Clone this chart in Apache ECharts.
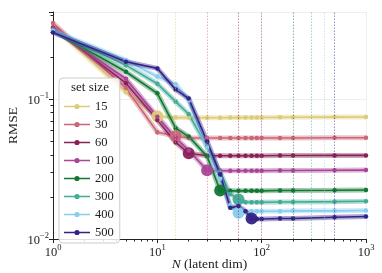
<!DOCTYPE html>
<html><head><meta charset="utf-8">
<script src="https://cdn.jsdelivr.net/npm/echarts@6/dist/echarts.min.js"></script>
<style>html,body{margin:0;padding:0;background:#fff}#c{width:382px;height:273px}</style>
</head><body><div id="c"></div>
<script>
// ---- data ----
const latentDims = [1,5,10,15,20,30,40,50,60,70,80,90,100,150,200,500,1000];
const setSizes = ['15','30','60','100','200','300','400','500'];
const setSizeValues = [15,30,60,100,200,300,400,500];
const colors = ['#DDCC77','#CC6677','#882255','#AA4499','#117733','#44AA99','#88CCEE','#332288'];
const rmse15  = [0.330,0.112,0.0755,0.0738,0.0738,0.0737,0.0737,0.0738,0.0738,0.0739,0.0739,0.0739,0.0739,0.0741,0.0742,0.0744,0.0745];
const rmse30  = [0.350,0.120,0.0580,0.0545,0.0527,0.0527,0.0527,0.0527,0.0527,0.0527,0.0527,0.0528,0.0528,0.0528,0.0528,0.0530,0.0530];
const rmse60  = [0.325,0.130,0.0710,0.0490,0.0410,0.0394,0.0394,0.0394,0.0394,0.0394,0.0394,0.0394,0.0394,0.0395,0.0395,0.0396,0.0396];
const rmse100 = [0.320,0.140,0.0750,0.0530,0.0430,0.0310,0.0308,0.0308,0.0308,0.0308,0.0308,0.0308,0.0308,0.0309,0.0309,0.0310,0.0311];
const rmse200 = [0.310,0.157,0.1100,0.0620,0.0540,0.0390,0.0222,0.0221,0.0221,0.0221,0.0221,0.0221,0.0221,0.0222,0.0222,0.0223,0.0224];
const rmse300 = [0.305,0.175,0.1290,0.0960,0.0780,0.0460,0.0300,0.0210,0.0192,0.0183,0.0183,0.0183,0.0183,0.0184,0.0184,0.0185,0.0186];
const rmse400 = [0.310,0.190,0.1450,0.1280,0.0980,0.0450,0.0270,0.0175,0.0154,0.0157,0.0158,0.0158,0.0158,0.0158,0.0159,0.0159,0.0160];
const rmse500 = [0.300,0.185,0.1660,0.1170,0.1010,0.0500,0.0290,0.0167,0.0172,0.0158,0.0140,0.0139,0.0139,0.0140,0.0140,0.0143,0.0145];
const markerN = [10,15,20,30,40,60,60,80];
const xTickValues = [1,10,100,1000];
const yTickValues = [0.01,0.1];
const rmseBySize = [rmse15,rmse30,rmse60,rmse100,rmse200,rmse300,rmse400,rmse500];

// ---- chart ----
const FONT = 'Liberation Serif';
const chart = echarts.init(document.getElementById('c'));
function powLabel(v, list){
  for (const t of list){
    if (Math.abs(v - t) / t < 1e-6){
      const e = Math.round(Math.log10(t));
      return '{b|10}{s|' + (e < 0 ? '\u2212' + (-e) : e) + '}';
    }
  }
  return '';
}
const rich = {
  b:{fontFamily:FONT,fontSize:12.5,color:'#222',padding:[4,0,0,0]},
  s:{fontFamily:FONT,fontSize:8.5,color:'#222',padding:[0,0,6,0]}
};
const legendIcon = 'path://M0,5.3 L26,5.3 L26,6.7 L0,6.7 Z M15.6,6 A2.6,2.6 0 1 1 10.4,6 A2.6,2.6 0 1 1 15.6,6 Z';
const series = [];
series.push({
  type:'line', name:'guides', data:[], silent:true, z:1,
  markLine:{symbol:'none',silent:true,label:{show:false},animation:false,
    data:setSizeValues.map((v,i)=>({xAxis:v,lineStyle:{color:colors[i],type:[1.5,1.5],width:1,opacity:0.5}}))}
});
rmseBySize.forEach((arr,i)=>{
  const pts = latentDims.map((n,j)=>[n,arr[j]]);
  series.push({type:'line',name:setSizes[i]+' band',data:pts,symbol:'none',silent:true,z:2,
    lineStyle:{width:5,color:colors[i],opacity:0.4}});
  series.push({type:'line',name:setSizes[i],data:pts,symbol:'circle',symbolSize:4.5,z:2,
    lineStyle:{width:1.6,color:colors[i]},itemStyle:{color:colors[i]}});
  const k = latentDims.indexOf(markerN[i]);
  series.push({type:'scatter',name:setSizes[i]+' opt',data:[[markerN[i],arr[k]]],symbolSize:12,z:2,
    itemStyle:{color:colors[i],opacity:0.95}});
});
chart.setOption({
  animation:false,
  grid:{left:53,right:16,top:12,bottom:34,containLabel:false,outerBoundsMode:'none'},
  xAxis:{type:'log',min:1,max:1000,logBase:10,
    name:'{i|N} (latent dim)',nameLocation:'middle',nameGap:18,nameMoveOverlap:false,
    nameTextStyle:{fontFamily:FONT,fontSize:13.5,color:'#222',rich:{i:{fontFamily:FONT,fontStyle:'italic',fontSize:13.5,color:'#222'}}},
    axisLine:{lineStyle:{color:'#222',width:1}},
    axisTick:{length:4,lineStyle:{color:'#222'}},
    minorTick:{show:true,splitNumber:9,length:2.5,lineStyle:{color:'#222'}},
    axisLabel:{formatter:v=>powLabel(v,xTickValues),rich:rich,margin:3},
    splitLine:{show:true,lineStyle:{color:'#eee',width:1}}},
  yAxis:{type:'log',min:0.01,max:0.42,logBase:10,
    name:'RMSE',nameLocation:'middle',nameGap:33,nameRotate:90,nameMoveOverlap:false,
    nameTextStyle:{fontFamily:FONT,fontSize:13.5,color:'#222'},
    axisLine:{show:true,lineStyle:{color:'#222',width:1}},
    axisTick:{show:true,length:4,lineStyle:{color:'#222'}},
    minorTick:{show:true,splitNumber:9,length:2.5,lineStyle:{color:'#222'}},
    axisLabel:{formatter:v=>powLabel(v,yTickValues),rich:rich,margin:4},
    splitLine:{show:true,lineStyle:{color:'#eee',width:1}}},
  legend:{data:setSizes.map(n=>({name:n,icon:legendIcon})),orient:'vertical',left:59,top:78,itemWidth:26,itemHeight:12,itemGap:5,
    padding:[22,6,4,5],backgroundColor:'rgba(255,255,255,0.85)',borderColor:'#ccc',borderWidth:1,borderRadius:4,
    textStyle:{fontFamily:FONT,fontSize:12.5,color:'#222'}},
  graphic:[{type:'text',left:71,top:81,z:100,style:{text:'set size',fontFamily:FONT,fontSize:13,fill:'#222'}}],
  series:series
});
</script></body></html>
